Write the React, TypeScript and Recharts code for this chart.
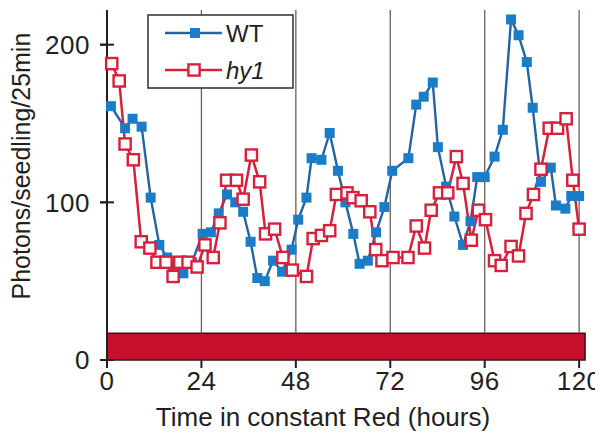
import React from 'react';
import { LineChart, Line, XAxis, YAxis, ReferenceLine, ReferenceArea, Legend } from 'recharts';

// ---- data ----
const wtHours = [1, 4.6, 6.5, 8.8, 11.1, 13.3, 15.3, 17.3, 19.4, 21.6, 24.3, 26.4, 28.4, 30.5, 32.6, 34.6, 36.5, 38.2, 40.1, 42.2, 44.5, 46.9, 48.6, 50.7, 52, 54.5, 56.6, 58.7, 60.6, 62.6, 64.2, 66.3, 68.4, 70.5, 72.5, 76.6, 78.6, 80.5, 82.8, 84.1, 86.2, 88.3, 90.5, 92.4, 94.1, 96, 98.5, 100.6, 102.7, 104.6, 106.7, 108.2, 110.3, 112.8, 114.1, 116.5, 118, 120];
const wtValues = [161, 147, 153, 148, 103, 73, 65, 60, 55, 62, 80, 81, 93, 105, 100, 94, 75, 52, 50, 63, 56, 70, 89, 103, 128, 127, 144, 120, 100, 80, 61, 63, 81, 97, 120, 128, 162, 167, 176, 135, 110, 91, 73, 88, 116, 116, 129, 146, 216, 206, 189, 160, 113, 122, 98, 96, 104, 104];

const hy1Hours = [1.2, 3.1, 4.6, 6.7, 8.7, 10.9, 12.7, 15, 16.8, 18.5, 20.6, 22.9, 24.9, 27, 28.7, 30.4, 32.9, 34.6, 36.7, 38.8, 40.3, 42.6, 44.7, 47.1, 50.7, 52.4, 54.5, 56.6, 58.3, 61, 62.5, 64.6, 66.8, 68.3, 69.9, 72.7, 76.5, 78.6, 80.7, 82.4, 84.5, 86.6, 88.8, 90.5, 92.6, 94.4, 96.2, 98.5, 100.2, 102.7, 104.6, 106.5, 108.4, 110.3, 112.4, 114.5, 116.7, 118.4, 120];
const hy1Values = [188, 177, 137, 127, 75, 71, 62, 62, 53, 62, 62, 59, 73, 65, 87, 114, 114, 102, 130, 113, 80, 83, 65, 57, 53, 77, 79, 82, 105, 106, 103, 101, 94, 70, 63, 65, 65, 85, 71, 95, 106, 106, 129, 112, 76, 95, 89, 63, 60, 72, 66, 93, 105, 121, 147, 147, 153, 114, 83];

const xTicks = [0, 24, 48, 72, 96, 120];
const yTicks = [0, 100, 200];
const gridHours = [24, 48, 72, 96, 120];
const redLight = { start: 0, end: 121.5, level: 17 };
const seriesNames = ['WT', 'hy1'];

const wtData = wtHours.map((h, i) => ({ x: h, y: wtValues[i] }));
const hy1Data = hy1Hours.map((h, i) => ({ x: h, y: hy1Values[i] }));

const FONT = '"Liberation Sans", Arial, Helvetica, sans-serif';
const INK = '#231f20';
const BLUE_LINE = '#2463a4';
const BLUE_DOT = '#1b7dc8';
const RED = '#d5213c';

const WtDot = (props: any) => {
  const { cx, cy } = props;
  if (cx == null || cy == null) return null;
  return <rect x={cx - 5} y={cy - 5} width={10} height={10} fill={BLUE_DOT} />;
};

const Hy1Dot = (props: any) => {
  const { cx, cy } = props;
  if (cx == null || cy == null) return null;
  return <rect x={cx - 5.6} y={cy - 5.6} width={11.2} height={11.2} fill="#fff" stroke={RED} strokeWidth={2.4} />;
};

const XTick = (props: any) => {
  const { x, y, payload } = props;
  return (
    <text x={x} y={y} dy="0.71em" textAnchor="middle" fontFamily={FONT} fontSize={26} letterSpacing={0.5} fill={INK}>
      {payload.value}
    </text>
  );
};

const YTick = (props: any) => {
  const { x, y, payload } = props;
  return (
    <g>
      <line x1={x + 10} x2={x + 24} y1={y} y2={y} stroke={INK} strokeWidth={2} />
      <text x={x} y={y} dy="0.355em" textAnchor="end" fontFamily={FONT} fontSize={26} letterSpacing={0.5} fill={INK}>
        {payload.value}
      </text>
    </g>
  );
};

const XTitle = (props: any) => {
  const vb = props.viewBox || {};
  return (
    <text x={vb.x + vb.width * 0.45} y={vb.y + 66} textAnchor="middle" fontFamily={FONT} fontSize={26} fill={INK}>
      Time in constant Red (hours)
    </text>
  );
};

const YTitle = (props: any) => {
  const vb = props.viewBox || {};
  const cx = vb.x + 22;
  const cy = vb.y + vb.height * 0.446;
  return (
    <text transform={`translate(${cx},${cy}) rotate(-90)`} textAnchor="middle" fontFamily={FONT} fontSize={25} fill={INK}>
      Photons/seedling/25min
    </text>
  );
};

const LegendBox = () => (
  <svg width={148} height={76} style={{ display: 'block' }}>
    <rect x={1} y={1} width={145} height={73} fill="#fff" stroke="#3c3a3a" strokeWidth={1.6} />
    <line x1={18} x2={75} y1={19} y2={19} stroke={BLUE_LINE} strokeWidth={2.5} />
    <rect x={43} y={14} width={10} height={10} fill={BLUE_DOT} />
    <text x={79} y={19} dy="0.355em" fontFamily={FONT} fontSize={24} fill={INK}>{seriesNames[0]}</text>
    <line x1={18} x2={75} y1={56} y2={56} stroke={RED} strokeWidth={2.5} />
    <rect x={41.4} y={50.4} width={11.2} height={11.2} fill="#fff" stroke={RED} strokeWidth={2.4} />
    <text x={79} y={56} dy="0.355em" fontFamily={FONT} fontSize={24} fontStyle="italic" fill={INK}>{seriesNames[1]}</text>
  </svg>
);

export default function App() {
  return (
    <LineChart
      width={595}
      height={434}
      margin={{ top: 2, right: 16, left: 0, bottom: 22 }}
      style={{ background: '#fff' }}
    >
      <XAxis
        type="number"
        dataKey="x"
        domain={[0, 122]}
        ticks={xTicks}
        interval={0}
        height={60}
        axisLine={false}
        tickLine={{ stroke: INK, strokeWidth: 2 }}
        tickSize={8}
        tickMargin={4}
        tick={<XTick />}
        label={{ content: <XTitle /> } as any}
      />
      <YAxis
        type="number"
        dataKey="y"
        domain={[0, 222]}
        ticks={yTicks}
        interval={0}
        width={99}
        axisLine={{ stroke: INK, strokeWidth: 2 }}
        tickLine={{ stroke: INK, strokeWidth: 2 }}
        tickSize={7}
        tickMargin={10}
        tick={<YTick />}
        label={{ content: <YTitle /> } as any}
      />
      {gridHours.map((h) => (
        <ReferenceLine
          key={h}
          segment={[{ x: h, y: redLight.level }, { x: h, y: 222 }]}
          stroke="#6a5f5b"
          strokeWidth={1.3}
        />
      ))}
      <ReferenceArea
        x1={redLight.start}
        x2={redLight.end}
        y1={0}
        y2={redLight.level}
        fill="#c50f2d"
        fillOpacity={1}
        stroke="#3a1515"
        strokeWidth={1.6}
      />
      <Line
        data={wtData}
        dataKey="y"
        name={seriesNames[0]}
        stroke={BLUE_LINE}
        strokeWidth={2.4}
        dot={<WtDot />}
        activeDot={false}
        isAnimationActive={false}
      />
      <Line
        data={hy1Data}
        dataKey="y"
        name={seriesNames[1]}
        stroke={RED}
        strokeWidth={2.5}
        dot={<Hy1Dot />}
        activeDot={false}
        isAnimationActive={false}
      />
      <Legend
        layout="horizontal"
        verticalAlign="middle"
        align="center"
        content={<LegendBox />}
        wrapperStyle={{ left: 139, top: 6, width: 148, height: 76 }}
      />
    </LineChart>
  );
}
